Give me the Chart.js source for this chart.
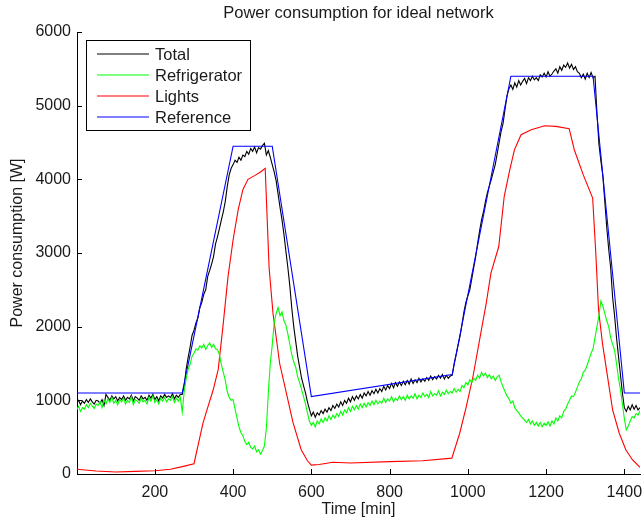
<!DOCTYPE html>
<html><head><meta charset="utf-8">
<script src="https://cdn.jsdelivr.net/npm/chart.js@4.4.1/dist/chart.umd.min.js"></script>
<style>html,body{margin:0;padding:0;background:#fff;}#wrap{width:644px;height:521px;}</style>
</head><body><div id="wrap"><canvas id="c" width="644" height="521"></canvas></div>
<script>
// ---- data ----
const STEP_MIN = 5; // total & refrigerator sampled every 5 minutes, from t=0
const totalW = [
 960,1000,940,990,960,1010,970,1020,980,950,1000,990,
 960,1010,930,1080,1040,1000,1060,1020,1050,990,1040,1010,
 1060,1000,1040,1020,1070,990,1050,1030,1000,1060,1020,1040,
 1000,1070,1030,1080,1010,1050,990,1060,1030,1080,1040,1060,
 1040,1090,1020,1070,1040,1080,1080,1200,1420,1580,1720,1880,
 1950,2050,2120,2260,2330,2440,2500,2680,2760,2850,2950,3120,
 3220,3330,3450,3560,3700,3900,4060,4150,4200,4260,4230,4300,
 4260,4330,4310,4380,4340,4420,4380,4440,4360,4430,4410,4460,
 4490,4330,4390,4300,4200,4100,3980,3800,3620,3450,3250,3020,
 2800,2550,2250,2000,1800,1600,1450,1300,1200,1100,980,880,
 790,840,770,830,800,860,820,880,840,900,860,930,
 890,950,910,980,930,1000,960,1030,980,1050,1000,1060,
 1020,1080,1030,1100,1060,1120,1070,1130,1090,1150,1100,1160,
 1120,1190,1140,1200,1160,1230,1170,1240,1190,1250,1200,1260,
 1210,1270,1220,1290,1230,1280,1240,1300,1250,1290,1260,1310,
 1270,1330,1280,1320,1290,1340,1300,1350,1290,1340,1300,1330,
 1340,1500,1620,1750,1870,2030,2200,2330,2420,2500,2650,2800,
 2950,3130,3300,3450,3560,3700,3820,3910,4000,4100,4200,4350,
 4500,4650,4760,4950,5130,5230,5280,5220,5310,5250,5340,5280,
 5330,5370,5300,5380,5340,5400,5350,5380,5340,5420,5390,5440,
 5390,5460,5400,5430,5470,5500,5440,5530,5480,5550,5520,5580,
 5510,5560,5490,5530,5460,5440,5380,5430,5360,5440,5380,5450,
 5380,5400,4900,4480,4250,4050,3700,3350,3050,2800,2400,2150,
 1850,1600,1350,1100,900,850,920,870,940,880,930,870,
 900
];
const fridgeW = [
 870,920,850,900,880,940,900,960,920,890,950,930,
 980,900,1000,950,1020,970,1040,960,1000,940,1010,980,
 1030,950,1000,970,1050,940,1010,990,960,1030,980,1000,
 950,1040,990,1060,970,1010,950,1030,990,1040,980,1020,
 1000,1050,970,1030,990,1040,840,1120,1290,1420,1490,1600,
 1640,1700,1680,1740,1710,1760,1690,1740,1780,1720,1760,1700,
 1690,1620,1480,1380,1270,1120,1040,1000,1010,880,760,640,
 560,520,440,400,430,360,340,380,300,330,270,320,
 380,620,1100,1500,1750,2050,2180,2260,2150,2200,2080,2020,
 1900,1760,1620,1520,1450,1320,1240,1150,1050,950,830,720,
 660,700,640,720,680,750,700,760,720,790,740,800,
 760,820,780,850,800,870,830,900,850,920,870,930,
 880,950,900,960,910,970,930,990,940,1000,950,990,
 960,1030,970,1020,990,1050,980,1030,1000,1060,1010,1050,
 1000,1070,1020,1060,1030,1090,1020,1070,1040,1100,1050,1080,
 1040,1120,1060,1090,1070,1130,1060,1110,1080,1140,1090,1120,
 1100,1160,1110,1150,1120,1200,1170,1240,1210,1280,1240,1300,
 1270,1340,1300,1380,1330,1370,1310,1350,1290,1330,1270,1320,
 1340,1250,1180,1120,1060,1020,960,990,900,860,830,790,
 760,730,700,740,680,720,660,700,650,700,640,690,
 660,710,650,720,680,760,720,790,760,850,880,950,
 1000,1060,1050,1110,1180,1250,1290,1380,1410,1480,1560,1640,
 1700,1850,2000,2150,2350,2280,2180,2080,2000,1850,1760,1680,
 1500,1300,1150,950,750,600,650,720,780,760,820,800,
 860
];
const lightT = [0,50,100,150,200,240,270,300,323,335,349,362,374,387,400,413,425,438,455,470,482,492,502,519,536,553,574,590,600,620,655,700,800,885,959,979,996,1013,1030,1047,1059,1079,1093,1106,1119,1136,1162,1196,1225,1259,1272,1295,1319,1327,1334,1344,1357,1370,1387,1404,1421,1440];
const lightW = [65,40,28,35,45,65,100,140,690,900,1140,1420,2000,2680,3180,3590,3860,4000,4050,4100,4150,2800,2180,1500,1100,700,330,180,120,130,160,150,168,180,215,550,915,1320,1820,2320,2727,3088,3770,4100,4400,4606,4674,4728,4719,4688,4402,4060,3746,3000,2230,1776,1322,870,553,326,190,90];
const refT = [0,270,400,500,600,960,1110,1320,1400,1440];
const refW = [1100,1100,4450,4450,1050,1350,5400,5400,1100,1100];
const xTickValues = [200,400,600,800,1000,1200,1400];
const yTickValues = [0,1000,2000,3000,4000,5000,6000];
const seriesNames = ['Total','Refrigerator','Lights','Reference'];
const seriesColors = ['#000000','#00ff00','#ff0000','#0000ff'];
const chartTitle = 'Power consumption for ideal network';
const xTitle = 'Time [min]';
const yTitle = 'Power consumption [W]';

// ---- build datasets ----
const gridPts = arr => arr.map((v,i)=>({x:i*STEP_MIN,y:v}));
const pairPts = (t,w) => t.map((v,i)=>({x:v,y:w[i]}));
const seriesData = [gridPts(totalW), gridPts(fridgeW), pairPts(lightT,lightW), pairPts(refT,refW)];
const drawOrder = [3,0,1,2]; // larger order drawn first (underneath)
const datasets = seriesNames.map((n,i)=>({
  label:n, data:seriesData[i], borderColor:seriesColors[i], backgroundColor:seriesColors[i],
  borderWidth:1.1, pointRadius:0, tension:0, fill:false, order:drawOrder[i]
}));

const FONT = '"Liberation Sans", Arial, Helvetica, sans-serif';

const deco = {
  id:'deco',
  afterDraw(chart){
    const ctx=chart.ctx, ca=chart.chartArea, xs=chart.scales.x, ys=chart.scales.y;
    ctx.save();
    ctx.strokeStyle='#000'; ctx.lineWidth=1;
    ctx.beginPath();
    xs.ticks.forEach(t=>{const px=Math.round(xs.getPixelForValue(t.value))+0.5; ctx.moveTo(px,ca.bottom); ctx.lineTo(px,ca.bottom-5);});
    ys.ticks.forEach(t=>{const py=Math.round(ys.getPixelForValue(t.value))+0.5; ctx.moveTo(ca.left,py); ctx.lineTo(ca.left+5,py);});
    ctx.stroke();
    ctx.fillStyle='#1a1a1a';
    ctx.textAlign='center'; ctx.textBaseline='middle';
    ctx.font='16.5px '+FONT;
    ctx.fillText(chartTitle,(ca.left+ca.right)/2,13);
    ctx.font='16px '+FONT;
    ctx.fillText(xTitle,(ca.left+ca.right)/2,510);
    ctx.save(); ctx.translate(18,243); ctx.rotate(-Math.PI/2); ctx.fillText(yTitle,0,0); ctx.restore();
    // legend
    const lx=86.5, ly=40.5, lw=164, lh=90;
    ctx.fillStyle='#fff'; ctx.fillRect(lx,ly,lw,lh);
    ctx.strokeStyle='#000'; ctx.lineWidth=1; ctx.strokeRect(lx,ly,lw,lh);
    ctx.font='16.5px '+FONT; ctx.textAlign='left';
    for (let i=0;i<seriesNames.length;i++){
      const y=54+i*21;
      ctx.beginPath();
      ctx.strokeStyle=seriesColors[i]; ctx.lineWidth=1.2;
      ctx.moveTo(97,y); ctx.lineTo(149,y); ctx.stroke();
      ctx.fillStyle='#1a1a1a'; ctx.fillText(seriesNames[i],155,y+1);
    }
    ctx.restore();
  }
};

new Chart(document.getElementById('c'),{
  type:'line',
  data:{datasets},
  options:{
    responsive:false, animation:false, devicePixelRatio:1,
    layout:{padding:{top:32,right:4,left:0,bottom:0}},
    plugins:{legend:{display:false},title:{display:false},tooltip:{enabled:false}},
    scales:{
      x:{type:'linear',min:1,max:1440,
        afterBuildTicks:s=>{s.ticks=xTickValues.map(v=>({value:v}));},
        afterFit:s=>{s.height=47;s.paddingRight=0;s.paddingLeft=0;},
        grid:{display:true,drawOnChartArea:false,drawTicks:false,color:'#000'},
        border:{display:true,color:'#000',width:1},
        ticks:{color:'#1a1a1a',font:{family:FONT,size:16},padding:9,maxRotation:0,autoSkip:false,callback:v=>String(v)}
      },
      y:{type:'linear',min:0,max:6000,
        afterBuildTicks:s=>{s.ticks=yTickValues.map(v=>({value:v}));},
        afterFit:s=>{s.width=77;},
        grid:{display:true,drawOnChartArea:false,drawTicks:false,color:'#000'},
        border:{display:true,color:'#000',width:1},
        ticks:{color:'#1a1a1a',font:{family:FONT,size:16},padding:6,autoSkip:false,callback:v=>String(v)}
      }
    }
  },
  plugins:[deco]
});
</script></body></html>
